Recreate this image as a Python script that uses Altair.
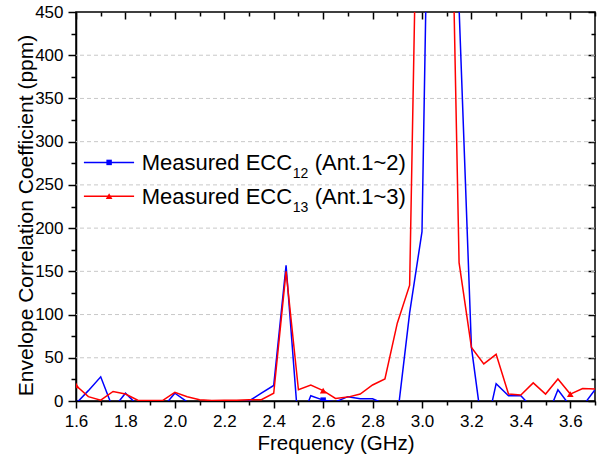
import altair as alt
import pandas as pd

FONT = "Liberation Sans"

freq = [1.60, 1.65, 1.70, 1.75, 1.80, 1.85, 1.90, 1.95, 2.00, 2.05,
        2.10, 2.15, 2.20, 2.25, 2.30, 2.35, 2.40, 2.45, 2.50, 2.55,
        2.60, 2.65, 2.70, 2.75, 2.80, 2.85, 2.90, 2.95, 3.00, 3.05,
        3.10, 3.15, 3.20, 3.25, 3.30, 3.35, 3.40, 3.45, 3.50, 3.55,
        3.60, 3.65, 3.70]

ecc12 = [-3, 12, 28, -9, 9, -5, -3, -8, 9, -1,
         -2, -1, -1, -1, 0, 9, 18, 157, -30, 6,
         1, -1, 5, 2.5, 2.5, -3.5, -19, 102, 196, 1040,
         980, 455, 62, -45, 20, 6, 6, -9, -23, 13,
         -6, -6, 13]

ecc13 = [18, 5, 1, 11, 8, 1, 0.5, 0.5, 10, 5,
         1.5, 0.5, 1, 1, 1.5, 1.5, 9, 150, 13, 18.5,
         12, 3, 4.5, 8, 18.5, 25.5, 90, 134, 920, 1100,
         885, 160, 62, 43, 54, 8, 7, 21, 8, 25.5,
         8, 14.5, 14]

marker_freq = [1.6, 2.6, 3.6]

series_names = ["ECC12", "ECC13"]
series_colors = ["#0000FF", "#FF0000"]

x_ticks = [1.6, 1.7, 1.8, 1.9, 2.0, 2.1, 2.2, 2.3, 2.4, 2.5, 2.6,
           2.7, 2.8, 2.9, 3.0, 3.1, 3.2, 3.3, 3.4, 3.5, 3.6, 3.7]
y_ticks = [0, 25, 50, 75, 100, 125, 150, 175, 200, 225, 250,
           275, 300, 325, 350, 375, 400, 425, 450]
grid_y = [50, 100, 150, 200, 250, 300, 350, 400]

# legend
leg_main = ["Measured ECC", "Measured ECC"]
leg_sub = ["12", "13"]
leg_tail = ["(Ant.1~2)", "(Ant.1~3)"]
leg_y = [276, 237]
leg_x_start = 1.632
leg_x_end = 1.835
leg_x_marker = 1.734
leg_x_text = 1.866

df = pd.DataFrame({
    "freq": freq * 2,
    "ecc": ecc12 + ecc13,
    "series": ["ECC12"] * len(freq) + ["ECC13"] * len(freq),
})
df_mark = df[df["freq"].round(2).isin(marker_freq)]

grid_df = pd.DataFrame({"ecc": grid_y})
leg_df = pd.DataFrame({
    "series": series_names,
    "freq": [leg_x_start] * 2,
    "freq2": [leg_x_end] * 2,
    "fm": [leg_x_marker] * 2,
    "ft": [leg_x_text] * 2,
    "ecc": leg_y,
    "main": leg_main,
    "sub": leg_sub,
    "tail": leg_tail,
})

xs = alt.Scale(domain=[1.6, 3.7], nice=False, zero=False)
ys = alt.Scale(domain=[0, 450], nice=False, zero=False)
cs = alt.Scale(domain=series_names, range=series_colors)
shapes = alt.Scale(domain=series_names, range=["square", "triangle-up"])

common_axis = dict(
    domainColor="black", domainWidth=1.5, tickColor="black", tickWidth=1.5,
    labelFont=FONT, labelFontSize=17, labelColor="black", labelFlush=False,
    labelOverlap=False,
    titleFont=FONT, titleColor="black", titleFontWeight="normal", grid=False,
)

x_bottom = alt.Axis(
    orient="bottom", values=x_ticks, format=".1f",
    labelExpr="round(datum.value*10) % 2 == 0 ? datum.label : ''",
    tickSize=alt.ExprRef(expr="round(datum.value*10) % 2 == 0 ? 7 : 4"),
    labelPadding=5, title="Frequency (GHz)", titleFontSize=20.5,
    titleY=48, titleBaseline="alphabetic",
    **common_axis,
)
y_left = alt.Axis(
    orient="left", values=y_ticks,
    labelExpr="datum.value % 50 == 0 ? datum.label : ''",
    tickSize=alt.ExprRef(expr="datum.value % 50 == 0 ? 8 : 5"),
    labelPadding=5, title="Envelope Correlation Coefficient (ppm)",
    titleFontSize=21, titleX=-44, titleY=203, titleBaseline="alphabetic",
    **common_axis,
)
x_top = alt.Axis(
    orient="top", values=x_ticks, labels=False, title=None, domain=False,
    tickSize=alt.ExprRef(expr="round(datum.value*10) % 2 == 0 ? -7 : -4"),
    tickColor="black", tickWidth=1.5, grid=False,
)
y_right = alt.Axis(
    orient="right", values=y_ticks, labels=False, title=None, domain=False,
    tickSize=alt.ExprRef(expr="datum.value % 50 == 0 ? -7 : -4"),
    tickColor="black", tickWidth=1.5, grid=False,
)

grid = alt.Chart(grid_df).mark_rule(
    color="#c8c8c8", strokeDash=[4, 3], strokeWidth=1
).encode(y=alt.Y("ecc:Q", scale=ys, axis=None))

blue = alt.Chart(df[df.series == "ECC12"]).mark_line(
    clip=True, strokeWidth=1.5
).encode(
    x=alt.X("freq:Q", scale=xs, axis=x_bottom),
    y=alt.Y("ecc:Q", scale=ys, axis=y_left),
    color=alt.Color("series:N", scale=cs, legend=None),
)

red = alt.Chart(df[df.series == "ECC13"]).mark_line(
    clip=True, strokeWidth=1.5
).encode(
    x=alt.X("freq:Q", scale=xs, axis=None),
    y=alt.Y("ecc:Q", scale=ys, axis=None),
    color=alt.Color("series:N", scale=cs, legend=None),
)

mirror = alt.Chart(df[df.series == "ECC13"]).mark_line(
    clip=True, opacity=0
).encode(
    x=alt.X("freq:Q", scale=xs, axis=x_top),
    y=alt.Y("ecc:Q", scale=ys, axis=y_right),
)

markers = alt.Chart(df_mark).mark_point(
    clip=True, filled=True, opacity=1
).encode(
    x=alt.X("freq:Q", scale=xs, axis=None),
    y=alt.Y("ecc:Q", scale=ys, axis=None),
    color=alt.Color("series:N", scale=cs, legend=None),
    shape=alt.Shape("series:N", scale=shapes, legend=None),
    size=alt.condition(alt.datum.series == "ECC12", alt.value(30), alt.value(45)),
)

leg_lines = alt.Chart(leg_df).mark_rule(strokeWidth=1.5).encode(
    x=alt.X("freq:Q", scale=xs, axis=None),
    x2="freq2:Q",
    y=alt.Y("ecc:Q", scale=ys, axis=None),
    color=alt.Color("series:N", scale=cs, legend=None),
)
leg_pts = alt.Chart(leg_df).mark_point(filled=True, opacity=1).encode(
    x=alt.X("fm:Q", scale=xs, axis=None),
    y=alt.Y("ecc:Q", scale=ys, axis=None),
    color=alt.Color("series:N", scale=cs, legend=None),
    shape=alt.Shape("series:N", scale=shapes, legend=None),
    size=alt.condition(alt.datum.series == "ECC12", alt.value(30), alt.value(45)),
)
leg_text_main = alt.Chart(leg_df).mark_text(
    align="left", baseline="alphabetic", dy=7.7, fontSize=22, font=FONT, color="black"
).encode(
    x=alt.X("ft:Q", scale=xs, axis=None),
    y=alt.Y("ecc:Q", scale=ys, axis=None),
    text="main:N",
)
leg_text_sub = alt.Chart(leg_df).mark_text(
    align="left", baseline="alphabetic", dx=151, dy=16, fontSize=14, font=FONT, color="black"
).encode(
    x=alt.X("ft:Q", scale=xs, axis=None),
    y=alt.Y("ecc:Q", scale=ys, axis=None),
    text="sub:N",
)
leg_text_tail = alt.Chart(leg_df).mark_text(
    align="left", baseline="alphabetic", dx=173, dy=7.7, fontSize=22, font=FONT, color="black"
).encode(
    x=alt.X("ft:Q", scale=xs, axis=None),
    y=alt.Y("ecc:Q", scale=ys, axis=None),
    text="tail:N",
)

chart = alt.layer(
    grid, blue, red, mirror, markers,
    leg_lines, leg_pts, leg_text_main, leg_text_sub, leg_text_tail,
).properties(
    width=519, height=389,
    autosize=alt.AutoSizeParams(type="none"),
    padding={"left": 76, "top": 12, "right": 10, "bottom": 57},
    background="white",
).configure_view(stroke="black", strokeWidth=1.5)

chart.save("out.html", embed_options={"renderer": "svg", "actions": False})
